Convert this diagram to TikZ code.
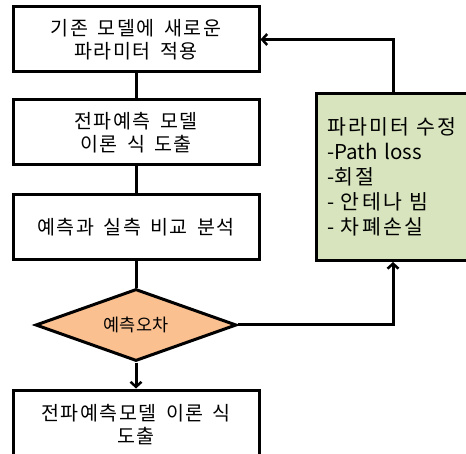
\documentclass[tikz,border=0pt]{standalone}
\usepackage{fontspec}
\setmainfont{Noto Sans CJK KR}[WordSpace=1.6]
\newfontfamily\krbox{Noto Sans CJK KR}[WordSpace=1.6, LetterSpace=8]
\newfontfamily\krnote{Noto Sans CJK KR}[WordSpace=1.6, LetterSpace=12]
\usetikzlibrary{shapes.geometric,arrows.meta}
\definecolor{boxgreen}{HTML}{D7E4BD}
\definecolor{diaorange}{HTML}{FAC090}
\begin{document}
\begin{tikzpicture}[x=1pt,y=-1pt,
  every node/.style={font=\fontsize{19.5}{23}\selectfont},
  procbox/.style={draw, line width=3pt, fill=white, minimum width=246pt, minimum height=65pt, align=center, inner sep=0pt, font=\krbox\fontsize{19.5}{23}\selectfont},
  notebox/.style={draw, line width=3pt, fill=boxgreen, minimum width=154pt, minimum height=167pt, text width=132pt, align=left, inner sep=0pt, font=\fontsize{20.5}{25}\selectfont},
  decbox/.style={draw, diamond, line width=3pt, fill=diaorange, minimum width=201pt, minimum height=72pt, inner sep=0pt, font=\fontsize{17.5}{22}\selectfont},
  link/.style={line width=3pt},
  arr/.style={line width=3pt, -{Straight Barb[length=5pt,width=11pt,line width=2.5pt]}}
]
\useasboundingbox (0,0) rectangle (466,454);
\node[procbox] (b1) at (136,39.5) {기존 모델에 새로운\\파라미터 적용};
\node[procbox] (b2) at (136,132.5) {전파예측 모델\\이론 식 도출};
\node[procbox] (b3) at (136,227.5) {예측과 실측 비교 분석};
\node[decbox, shape aspect=2.8] (d) at (136,325) {예측오차};
\node[procbox, minimum height=70pt] (b4) at (136,425) {전파예측모델 이론 식\\도출};
\node[notebox] (g) at (393,177) {{\krnote 파라미터 수정}\\-Path loss\\-{\krnote 회절}\\- {\krnote 안테나 빔}\\- {\krnote 차폐손실}};
\draw[link] (b1) -- (b2);
\draw[link] (b2) -- (b3);
\draw[link] (b3) -- (d);
\draw[arr] (d) -- (b4);
\draw[arr] (d.east) -| (g.south);
\draw[arr] (g.north) |- (b1.east);
\end{tikzpicture}
\end{document}
